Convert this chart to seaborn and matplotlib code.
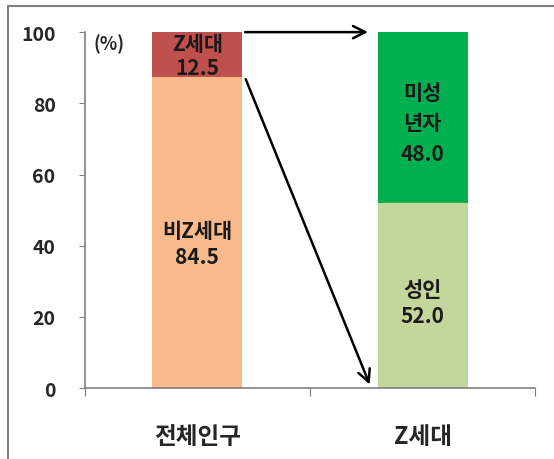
import pandas as pd
import seaborn as sns
import matplotlib.pyplot as plt
from matplotlib.lines import Line2D

categories = ["전체인구", "Z세대"]
bottom_values = [87.5, 52.0]
top_values = [12.5, 48.0]
bottom_labels = ["비Z세대\n84.5", "성인\n52.0"]
top_labels = ["Z세대\n12.5", "미성\n년자\n48.0"]
bottom_colors = ["#F9BA8C", "#C3D69B"]
top_colors = ["#C0504D", "#00B050"]

sns.set_style("white")
plt.rcParams['font.family'] = ['Noto Sans CJK KR', 'DejaVu Sans']

df = pd.DataFrame({
    "category": categories,
    "bottom": bottom_values,
    "total": [b + t for b, t in zip(bottom_values, top_values)],
})

fig = plt.figure(figsize=(5.54, 4.60), dpi=100)
ax = fig.add_axes([0.153, 0.154, 0.813, 0.774])

sns.barplot(data=df, x="category", y="total", hue="category", palette=top_colors,
            width=0.4, saturation=1, legend=False, linewidth=0, ax=ax)
sns.barplot(data=df, x="category", y="bottom", hue="category", palette=bottom_colors,
            width=0.4, saturation=1, legend=False, linewidth=0, ax=ax)

lab = dict(ha="center", va="center", fontsize=15, fontweight="bold", color="#1a1a1a")
for i in range(len(categories)):
    b = bottom_values[i]
    t = top_values[i]
    ax.text(i, b * 0.465, bottom_labels[i], linespacing=1.3, **lab)
    if t < 20:
        ax.text(i, b + t * 0.48, top_labels[i], linespacing=1.2, **lab)
    else:
        ax.text(i, b + t * 0.47, top_labels[i], linespacing=1.55, **lab)

# arrows from the Z generation slice to the second bar
arrow = dict(arrowstyle="->", color="black", lw=1.8, mutation_scale=22)
ax.annotate("", xy=(0.77, 100), xytext=(0.2, 100), arrowprops=arrow)
ax.annotate("", xy=(0.77, 0.3), xytext=(0.21, 87.5), arrowprops=arrow)

ax.set_xlim(-0.5, 1.5)
ax.set_ylim(0, 100)
ax.set_yticks([0, 20, 40, 60, 80, 100])
ax.set_xticks([-0.5, 0.5, 1.5], minor=False)
ax.set_xticks([0, 1], minor=True)
ax.set_xticklabels(["", "", ""])
ax.set_xticklabels(categories, minor=True, fontsize=17, fontweight="bold")
ax.tick_params(axis="x", which="minor", length=0, pad=26)
ax.tick_params(axis="x", which="major", direction="out", length=6, color="#808080", bottom=True)
ax.tick_params(axis="y", direction="out", length=4, color="#808080", left=True,
               labelsize=14, pad=17)
for lbl in ax.get_yticklabels():
    lbl.set_fontweight("bold")
ax.set_xlabel("")
ax.set_ylabel("")
sns.despine(ax=ax)
for side in ["left", "bottom"]:
    ax.spines[side].set_color("#808080")
    ax.spines[side].set_linewidth(1.2)

ax.text(0.02, 97, "(%)", transform=ax.get_yaxis_transform(), ha="left", va="center",
        fontsize=13, fontweight="bold")

fig.add_artist(Line2D([0.0145, 1.0], [0.985, 0.985], color="#808080", lw=1.5))
fig.add_artist(Line2D([0.0145, 0.0145], [0.0, 0.985], color="#808080", lw=1.5))

plt.savefig("out.png", dpi=100)
